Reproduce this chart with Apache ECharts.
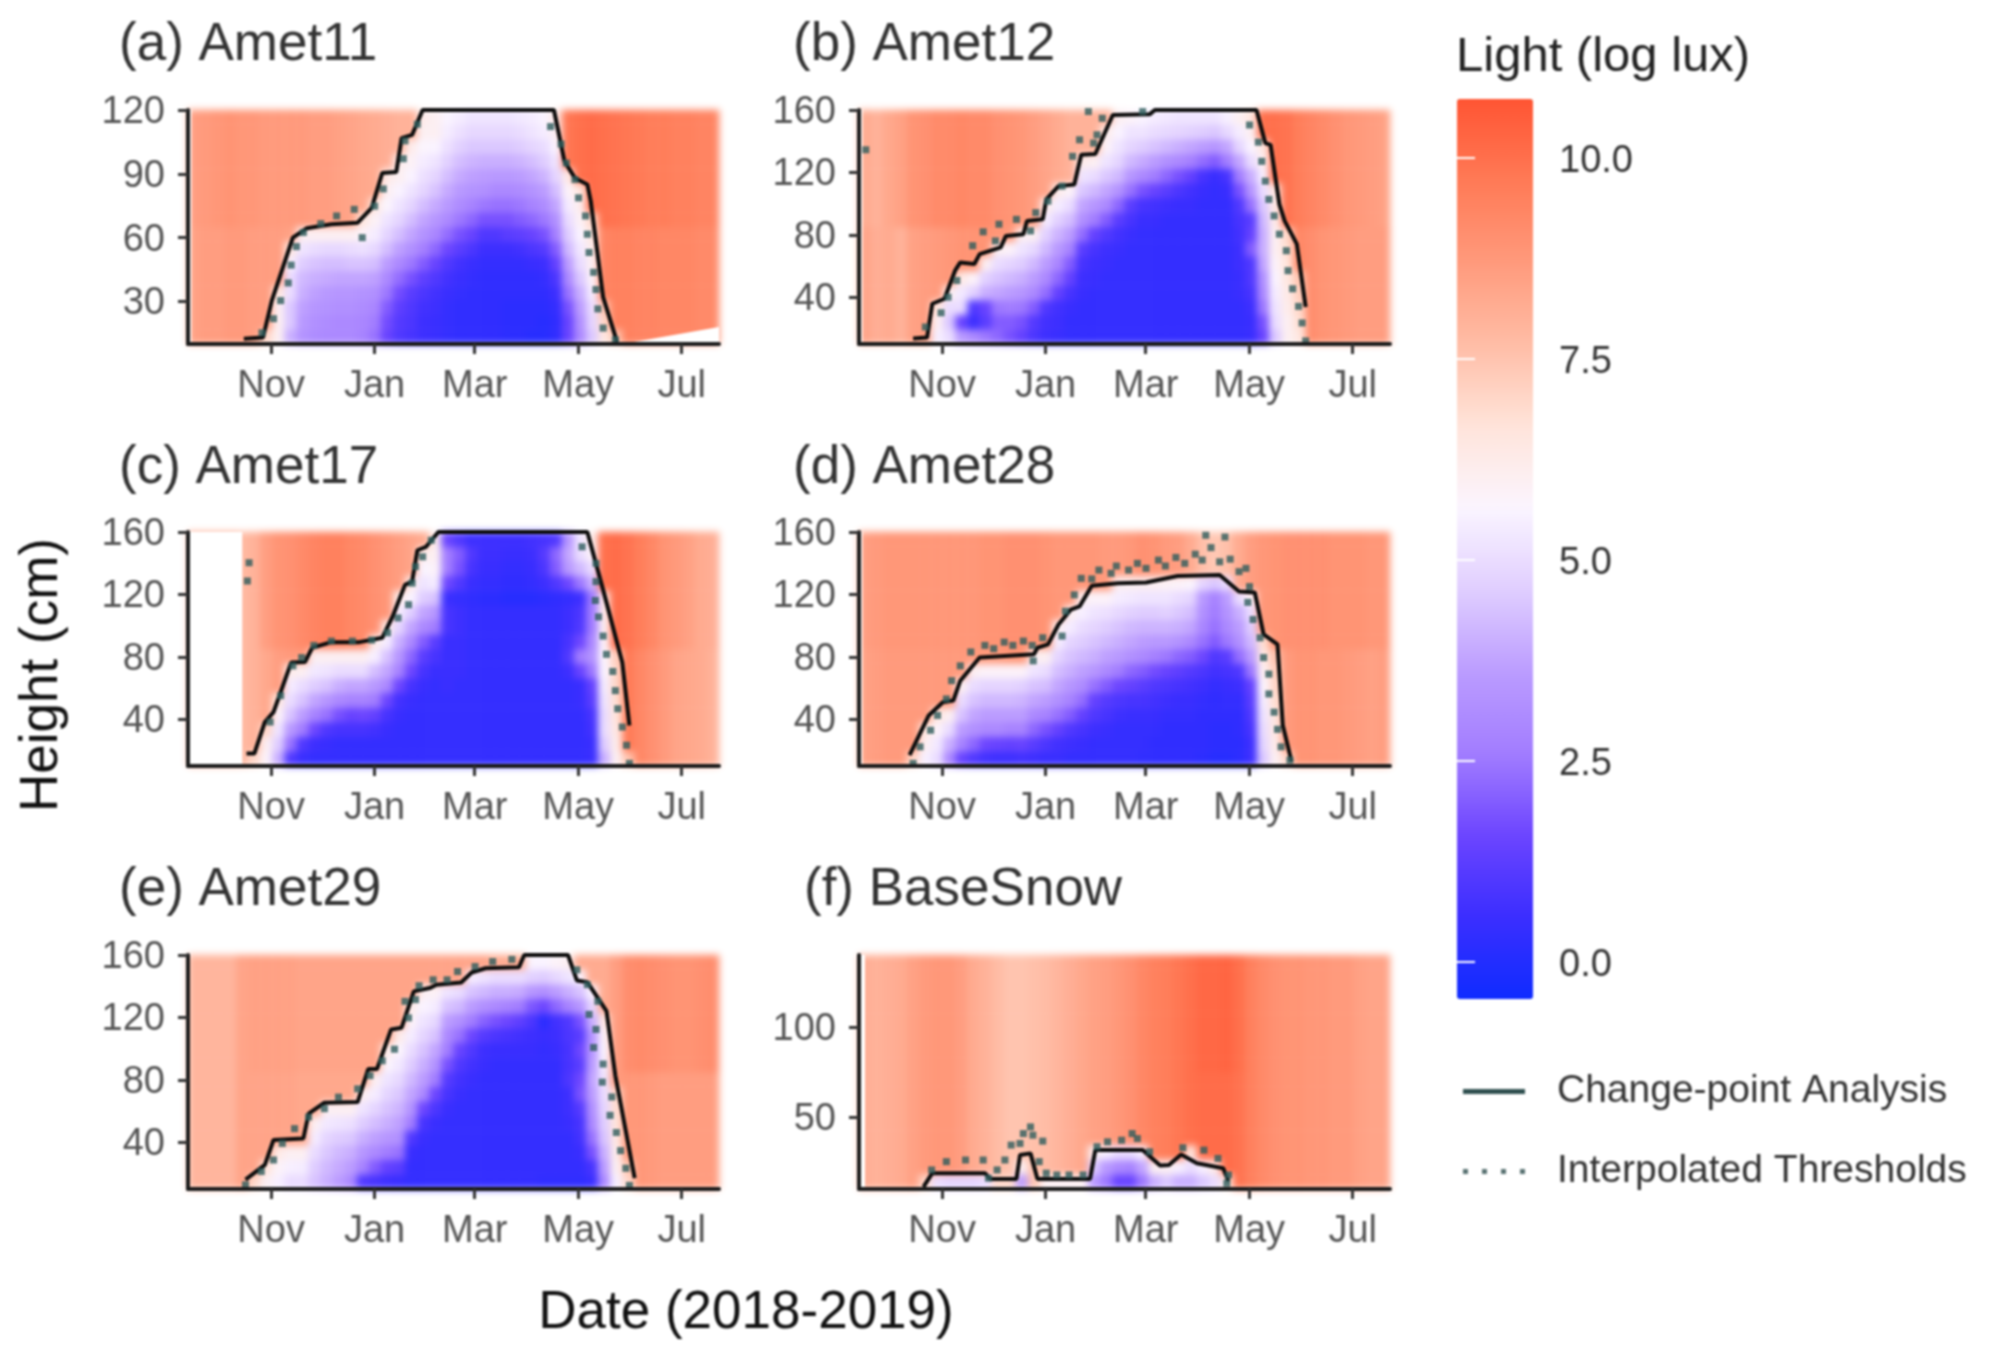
<!DOCTYPE html>
<html><head><meta charset="utf-8">
<style>html,body{margin:0;padding:0;background:#fff}#c{width:1989px;height:1356px;filter:blur(1px)}</style>
<script src="https://cdn.jsdelivr.net/npm/echarts@6/dist/echarts.min.js"></script>
</head><body><div id="c"></div>
<script>
const tickDays=[0,61,120,181,242];
const tickMonths=['Nov','Jan','Mar','May','Jul'];
const legendTicks=[0,2.5,5,7.5,10];
const heightTicksA=[30,60,90,120];
const heightTicks=[40,80,120,160];
const heightTicksF=[50,100];
const colourStops=['#0f2cff','#3b2eff','#6c45ff','#a27dff','#bb9cff','#e0ceff','#fbf5ff','#ffe4da','#ffbda6','#ff9a7c','#ff7a56','#ff5533'];

const airLoA=[8.5,8.6,8.6,8.7,8.7,8.6,8.6,8.6,8.5,8.5,8.5,8.5,8.4,8.4,8.3,8.2,8.2,8.2,8.2,8.2,8.2,8.2,8.2,8.2,8.2,8.2,8.2,8.2,8.2,8.2,8.2,8.6,9,9.3,9.4,9.5,9.5,9.4,9.4,9.3,9.3,9.3,9.2,9.2];
const airHiA=[8.6,8.7,8.8,8.9,8.8,8.8,8.7,8.7,8.7,8.7,8.6,8.6,8.5,8.4,8.3,8.2,8.1,8,8,8,8,8,8,8,8,8,8,8,8,8,8,9.8,10,10.1,10,9.9,9.8,9.7,9.6,9.6,9.5,9.5,9.4,9.4];
const startA=6;
const snowA=[[7],[6,6,6,6.5],[4,4.5,4.5,5,5,5.5,6.5],[3.3,3.5,3.7,4,4.2,4.6,5.2,6],[3.1,3.2,3.4,3.7,4,4.4,5,6],[3,3.1,3.3,3.5,3.9,4.3,4.9,6],[3,3,3.2,3.4,3.8,4.3,4.9,6],[3,3,3.2,3.4,3.8,4.4,5,6],[2.8,2.9,3.1,3.3,3.8,4.4,5.1,5.8,6.5],[2.4,2.6,2.9,3.2,3.7,4.3,4.9,5.4,5.9,6.5],[1.5,1.7,2,2.5,3,3.6,4.3,4.8,5.2,5.7,6,6.3],[1,1.1,1.3,1.7,2.3,3,3.7,4.3,4.8,5.2,5.6,6,6.2],[.8,.9,1,1.2,1.8,2.5,3.2,3.8,4.3,4.8,5.2,5.6,5.9,6.2],[.6,.6,.7,.9,1.3,2,2.7,3.3,3.8,4.3,4.8,5.1,5.4,5.7,6,6.2],[.5,.5,.6,.7,1,1.5,2.2,2.9,3.4,3.9,4.4,4.8,5.2,5.6,6,6],[.4,.4,.4,.5,.7,1,1.6,2.3,3,3.5,3.9,4.3,4.7,5.1,5.4,5.6],[.3,.3,.3,.4,.5,.7,1.2,1.8,2.5,3.1,3.5,3.9,4.3,4.7,5.1,5.4],[.3,.3,.3,.3,.4,.5,.9,1.5,2.2,2.8,3.3,3.7,4.1,4.5,4.9,5.2],[.3,.3,.3,.3,.3,.4,.6,1,1.8,2.5,3.2,3.6,4,4.5,4.9,5.2],[.3,.3,.3,.3,.3,.4,.6,1,1.8,2.4,3,3.5,4,4.5,4.9,5.2],[.2,.2,.2,.3,.3,.4,.6,1.2,1.8,2.4,3,3.5,4,4.5,4.9,5.2],[.2,.2,.2,.3,.3,.4,.7,1.3,2,2.5,3.1,3.6,4.1,4.6,5,5.3],[.1,.2,.2,.3,.3,.5,.9,1.5,2.2,2.8,3.3,3.8,4.3,4.8,5.2,5.4],[.1,.1,.2,.3,.4,.6,1.1,1.8,2.5,3.1,3.6,4.1,4.6,5,5.4,5.6],[.3,.3,.4,.6,.9,1.4,2,2.7,3.2,3.8,4.3,4.8,5.2,5.6,6,6.3],[1.5,1.5,1.8,2.4,3,3.6,4.2,4.6,5,5.4,5.8,6.3],[3,3.2,3.6,4,4.5,5,5.3,5.6,5.9,6.1,6.5],[4.5,4.8,5,5.4,5.8,6,6.2,6.5,7],[6.5,7,7.5],[7.5]];
const lineA=[[-16.1,12.5],[-4.8,13],[.4,30.4],[12.8,60],[21.1,64.4],[35.5,66.3],[51,67],[59.3,74],[65.5,90.4],[73.8,90.9],[76.9,106.8],[83.1,108.3],[89.3,120],[166.7,120],[172.9,95.9],[179.1,88],[186.4,85],[188.4,77.2],[195.7,32],[203.9,11]];
const dotsA=[[-5.4,15.3],[1.4,21.9],[5.6,30.4],[10.1,38.7],[11.8,47.1],[14.9,55.8],[19,62.4],[29.3,66.6],[38.6,70.2],[49,73.3],[53.7,60],[61,74.8],[66.1,82.9],[77.9,97.1],[78.9,105.5],[86.2,113.3],[164.7,112.2],[170.9,104],[174,95.1],[179.1,87.3],[181.2,78.7],[185.3,70.2],[186.4,61.6],[187.4,53],[190.1,43.7],[191.5,35.6],[192.6,26.5],[195.7,17.5],[202.9,12]];
const masksA=[[[-49,120],[-47,120]],[[207,10],[264,18]]];

const airLoB=[8.4,8.1,8.2,8,8.5,8.6,8.7,8.8,8.9,8.9,8.9,8.8,8.7,8.6,8.5,8.4,8.4,8.4,8.4,8.4,8.4,8.4,8.4,8.4,8.4,8.4,8.4,8.4,8.4,8.4,8.4,8.4,8.4,8.4,8.4,9.4,9.3,9.1,8.9,8.8,8.7,8.6,8.6,8.6];
const airHiB=[8.2,8,8.3,8.5,8.9,9,9.2,9.2,9.3,9.2,9.2,9,8.9,8.8,8.6,8.4,8.2,8,8,8,8,8,8,8,8,8,8,8,8,8,8,8,8,10,10,9.9,9.6,9.4,9.2,9,8.8,8.7,8.6,8.5];
const startB=6;
const snowB=[[5.5,6,6.5],[5,4.5,5,6],[3.5,1.5,5,5.3,6.3],[3,.6,1,4.7,5.8],[2.5,1.2,1.5,4,4.7,6],[2.2,2,2.5,3.8,4.4,5,6],[1.8,2,2.6,3.6,4.2,4.8,5.8],[1.4,1.8,2.5,3.4,4,4.6,5.2,6],[.9,1.1,2,3,3.6,4.2,4.9,6],[.6,.7,1,2.3,3,3.6,4.2,4.7,5.4,6.2],[.5,.6,.7,1.4,2.2,2.9,3.5,4.1,4.7,5.4,6.2],[.4,.4,.5,.8,1.4,2,2.8,3.6,4.3,5,5.8],[.4,.4,.4,.5,.6,.8,1.2,2.3,3.2,3.8,4.5,5.2,6.2],[.4,.4,.4,.4,.5,.6,.8,1.4,2.6,3.4,4.2,5,6],[.4,.4,.4,.4,.4,.5,.6,1,2,3,3.8,4.5,5.2,5.8,6.2],[.4,.4,.4,.4,.4,.4,.5,.7,1.2,2.2,3.3,4.2,4.8,5.2,5.6,6],[.4,.4,.4,.4,.4,.4,.4,.5,.8,1.2,2.4,3.4,4.2,4.8,5.2,5.8],[.4,.4,.4,.4,.4,.4,.4,.4,.5,.8,1.8,3,3.9,4.6,5.2,5.6],[.4,.4,.4,.4,.4,.4,.4,.4,.5,.7,1.5,2.6,3.6,4.4,5,5.4],[.4,.4,.4,.4,.4,.4,.4,.4,.4,.6,1.2,2.2,3.2,4.2,4.9,5.3],[.4,.4,.4,.4,.4,.4,.4,.4,.4,.5,.9,1.8,3,4,4.8,5.2],[.4,.4,.4,.4,.4,.4,.4,.4,.4,.5,.7,1.4,2.7,3.8,4.7,5.2],[.4,.4,.4,.4,.4,.4,.4,.4,.4,.4,.5,.8,2.3,3.6,4.6,5.2],[.4,.4,.4,.4,.4,.4,.4,.4,.4,.4,.4,.5,2,3.4,4.5,5.2],[.4,.4,.4,.4,.4,.4,.4,.4,.4,.4,.5,.8,2.6,3.8,4.9,5.5],[.4,.4,.4,.5,.5,.6,.6,.7,.8,1,1.8,2.6,3.8,4.8,5.4,6],[.5,.5,.6,.8,1,1,2,1.4,1.2,2.4,3.4,4,5,5.6,6,6.5],[1.5,1.8,2.5,3,3.2,3.8,4,4,4.2,4.5,5,5.5,6,6.4],[4.5,5,5.2,5.4,5.6,5.8,6,6,6.2,6.3,6.5],[6,6,6.2,6.3,6.5,6.6,6.8,7],[6.5,6.8,7,7.2,7.5]];
const lineB=[[-17.1,13.5],[-8.9,14.1],[-5.8,35.8],[1.4,39],[7.6,57],[10.7,62.3],[19,61.3],[22.1,67.6],[34.5,71.9],[37.6,79.3],[47.9,80.4],[50,88.9],[59.3,89.9],[61.4,102.7],[68.6,111.2],[77.9,112.2],[82,131.3],[90.3,131.8],[100.6,156.8],[122.3,157.2],[125.4,160],[185.3,160],[190.5,138.8],[193.6,137.7],[198.8,99.5],[201.9,88.9],[209.1,74],[214.3,33.7]];
const dotsB=[[-9.9,20.9],[-.6,30],[3.5,40],[8.7,50.7],[18,73],[24.2,81.9],[33.5,86.8],[31.4,76.1],[43.8,89.9],[52.1,82.5],[55.2,94.2],[62.4,101.6],[70.7,111.2],[76.9,130.3],[81,140.9],[86.2,159],[89.3,138.8],[91.3,144.1],[94.4,154.7],[118.2,159],[-45,134.5],[181.2,150.4],[186.4,139.4],[188.4,127.1],[190.5,114.4],[192.6,102.7],[195.7,92.1],[198.8,80.4],[202.9,69.8],[203.9,57],[206.6,45.4],[210.1,34.1],[212.2,23.5],[214.3,12]];
const masksB=[[[-49,160],[-47,160]]];

const airLoC=[8,8,8,8,7.8,8,8.3,8.6,8.7,8.7,8.7,8.7,8.7,8.6,8.5,8.4,8.3,8.2,8.2,8.2,8.2,8.2,8.2,8.2,8.2,8.2,8.2,8.2,8.2,8.2,8.2,8.2,8.2,8.2,9.6,9.8,9.7,9.3,9,8.7,8.4,8.3,8.2,8];
const airHiC=[8,8,8,8,7.8,8,8.6,8.9,9,9.2,9.4,9.5,9.5,9.3,9.2,9,8.8,8.6,8.4,8.2,8.2,8.2,8.2,8.2,8.2,8.2,8.2,8.2,8.2,8.2,8.2,8.2,8.2,8.2,10,10.1,9.9,9.6,9.3,8.9,8.7,8.5,8.2,8.1];
const startC=5;
const snowC=[[7],[5.8,6,7],[4,4.6,5.2,5.8,6.5],[1,2.4,3.5,4.4,5,5.4,6.2],[.5,1,2.6,3.6,4.4,5,6],[.4,.6,1.6,2.8,3.8,4.6,5.3,6],[.4,.5,1,2.4,3.4,4.4,5.2,6],[.4,.4,.8,1.8,3,4,5,6],[.4,.4,.8,1.5,2.8,3.8,5,6],[.4,.4,.8,1.6,2.8,3.8,5,6],[.4,.4,.7,1.4,2.6,3.5,4.3,5.5,6.2],[.4,.4,.5,.8,1.6,3,3.8,4.4,5.4,6.2],[.4,.4,.4,.5,.7,1.6,2.8,3.4,4,4.8,5.4,6.2],[.4,.4,.4,.4,.5,.8,1.6,2.2,3,3.8,4.6,5.6,6.2],[.4,.4,.4,.4,.4,.5,.8,1.2,2,3,3.8,4.6,5.2,5.6,6.2],[.4,.4,.4,.4,.4,.4,.5,.8,1.2,2.6,3.4,4.4,5.4,5.8,6,6.2],[.4,.4,.4,.4,.4,.5,.5,.5,.5,.8,.8,.5,1.6,2.6,2.6,1.5],[.4,.4,.4,.4,.4,.4,.5,.5,.5,.6,.6,.4,1,1.8,2,1],[.4,.4,.4,.4,.4,.4,.4,.4,.4,.4,.4,.3,.5,.8,1,.6],[.4,.4,.4,.4,.4,.4,.4,.4,.4,.4,.4,.2,.4,.5,.6,.6],[.4,.4,.4,.4,.4,.4,.4,.4,.4,.4,.4,.2,.4,.5,.6,.6],[.4,.4,.4,.4,.4,.4,.4,.4,.4,.4,.4,.1,.3,.4,.5,.6],[.4,.4,.4,.4,.4,.4,.4,.4,.4,.4,.4,.1,.3,.4,.5,.6],[.4,.4,.4,.4,.4,.4,.4,.4,.4,.4,.4,.1,.4,.5,.6,.7],[.4,.4,.4,.4,.4,.4,.4,.4,.4,.4,.4,.2,.6,.9,1.1,.8],[.4,.4,.4,.4,.4,.4,.4,.4,.4,.4,.4,.3,1,2,2.2,1],[.4,.4,.4,.4,.4,.4,.6,1,.8,.6,.6,.4,1.6,3.5,3.8,3.4],[.4,.4,.4,.4,.5,.5,1.5,2.6,1.6,1,.9,.6,2.5,4.2,5,5.2],[.5,.5,.7,.8,1.2,1.4,2.5,3.3,3,2.6,2.6,2.5,4,5,5.8,6.2],[4,4.6,5,5,5.2,5.4,5.6,5.7,5.8,6,6.2,6.4],[6,6.2,6.4,6.6,6.8,7,7,7.2],[7.5]];
const lineC=[[-14.5,18],[-9.9,18],[-3.7,38.2],[1.4,44.5],[11.8,76.3],[20,76.7],[24.2,85.8],[35.5,89.4],[52.1,89.4],[65.5,92.2],[71.7,106],[78.9,126.1],[83.1,128.2],[86.2,148.3],[91.3,150.5],[98.6,160],[186.4,160],[195.7,122.9],[207,76.3],[211.2,36]];
const dotsC=[[-13,140.3],[-14,128.6],[-.6,38.2],[5.6,55.1],[12.8,74.2],[18,79.5],[25.2,87.3],[35.5,90.1],[47.9,90.1],[59.3,90.7],[68.6,95.4],[74.8,104.9],[81,113.4],[83.1,127.2],[85.1,137.8],[89.3,144.1],[94.4,154.7],[183.3,150.5],[191.5,139.9],[191.5,128.2],[191.1,116.1],[193,105.6],[195.7,93.3],[197.7,81.6],[201.4,70.6],[202.9,58.3],[204.3,46.7],[207,35],[209.5,23.3],[211.2,11.7]];
const masksC=[[[-49,160],[-17,160]]];

const airLoD=[8.5,8.6,8.7,8.7,8.7,8.7,8.7,8.7,8.7,8.7,8.7,8.7,8.8,8.8,8.8,8.7,8.7,8.6,8.6,8.6,8.6,8.6,8.6,8.6,8.6,8.6,8.6,8.6,8.6,8.6,8.6,8.6,8.6,8.6,8.6,8.7,8.9,8.9,8.8,8.8,8.7,8.6,8.5,8.6];
const airHiD=[8.6,8.7,8.8,8.8,8.8,8.8,8.8,8.8,8.8,8.8,8.9,8.9,9,9,9,8.9,8.8,8.8,8.8,8.8,8.7,8.7,8.8,9,8.9,8.7,8.6,8.2,7.6,7.4,7.6,8.2,8.6,8.8,8.9,9,9,9,9,8.9,8.9,8.9,8.8,8.8];
const startD=4;
const snowD=[[7],[5.5,6,6.5],[5,5.3,5.8,6.5],[3,4,5,6],[1.5,2.8,3.6,4.4,5,6],[1,2.2,3.2,3.8,4.4,5,6],[.7,1.6,3,3.6,4.2,4.8,5.8],[.6,1.5,3,3.6,4.2,4.8,5.8],[.6,1.4,2.8,3.6,4.2,4.8,5.8],[.7,1.5,2.8,3.6,4.1,4.7,5.8],[.6,1.2,2.2,3,3.8,4.4,5.2,6],[.5,.9,1.8,2.8,3.6,4.3,5,6],[.5,.7,1.4,2.4,3.2,3.8,4.3,4.8,5.4,6],[.4,.6,1,2,2.8,3.4,4,4.4,4.8,5.4,6],[.4,.5,.8,1.4,2.3,3.1,3.7,4.2,4.6,5,5.5,6],[.4,.4,.6,1,1.4,2.4,3.4,4,4.4,4.8,5.2,5.8],[.4,.4,.5,.8,1.1,2,3,3.7,4.2,4.6,5.1,5.8],[.4,.4,.4,.6,.9,1.6,2.6,3.5,4,4.4,4.9,5.4,6],[.4,.4,.4,.5,.8,1.4,2.2,3.2,3.8,4.2,4.7,5.3,6],[.3,.4,.4,.5,.8,1.2,2,3,3.6,4.1,4.6,5.2,6],[.3,.3,.4,.5,.7,1,1.7,2.7,3.5,4.1,4.6,5.2,6],[.3,.3,.3,.4,.6,.9,1.5,2.5,3.5,4.1,4.7,5.2,5.9],[.3,.3,.3,.4,.5,.8,1.3,2.2,3.3,4,4.5,5,5.8],[.3,.3,.3,.4,.5,.7,1.1,2,3,3.8,4.3,4.8,5.7],[.2,.3,.3,.3,.4,.6,.9,1.6,2.4,2.9,3.2,3.5,4.8],[.1,.2,.2,.3,.3,.4,.7,1,2,2.4,2.6,2.8,4.5],[.1,.2,.2,.3,.4,.5,.8,1.2,2.5,3,3.3,3.6,5],[.2,.2,.3,.3,.4,.6,1,2.3,3.2,3.6,4,5],[.6,.6,.8,1,1.2,1.4,2.5,3.6,4.2,4.6,5,5.8],[4.5,4.8,5,5.2,5.4,5.7,6,6.4,6.8],[6,6.2,6.4,6.5,6.8,7,7.2,7.5],[7]];
const lineD=[[-19.2,17],[-7.9,42.4],[.4,50.9],[6.6,52],[10.7,64.7],[22.1,79.5],[54.1,81.6],[56.2,85.8],[62.4,88],[68.6,100.7],[75.8,110.2],[81,112.3],[88.2,125.5],[103.7,127.2],[120.2,127.6],[138.8,131.8],[163.6,132.5],[175,121.9],[184.3,121.2],[189.5,94.4],[197.7,88],[200.8,36.1],[206,12.8]];
const dotsD=[[-17.1,11.7],[-13,22.3],[-6.8,32.9],[-2.7,42.4],[2.5,53],[5.6,64.7],[10.7,74.2],[16.9,83.1],[25.2,87.3],[30.4,85.2],[36.6,89.4],[41.7,87.3],[47.9,90.1],[53.1,87.3],[59.3,92.2],[53.7,77.4],[70.7,93.3],[72.7,109.2],[77.9,119.7],[82,130.3],[88.2,129.9],[92.4,135.6],[99.6,133.5],[102.7,138.2],[109.9,135.6],[115.1,139.9],[120.2,136.7],[127.5,142],[131.6,138.2],[137.8,143.7],[143,139.9],[149.2,145.8],[153.3,142],[163.6,140.9],[169.8,142.6],[175,134.6],[179.1,136.7],[181.2,125],[180.2,114.9],[183.3,103.9],[187.4,92.2],[189.5,79.5],[192.6,68.9],[192.6,56.2],[195.7,44.5],[197.7,33.5],[199.8,22.3],[205,13.8],[155.4,157.9],[166.7,156.8],[158.5,150]];
const masksD=[[[-49,160],[-47,160]]];

const airLoE=[7.9,7.9,7.9,7.9,8.4,8.4,8.4,8.4,8.4,8.3,8.3,8.3,8.3,8.3,8.3,8.3,8.3,8.3,8.3,8.3,8.3,8.3,8.3,8.3,8.3,8.3,8.3,8.3,8.3,8.3,8.3,8.3,8.3,8.3,8.3,8.7,8.8,8.8,8.7,8.6,8.6,8.6,8.6,8.6];
const airHiE=[7.9,7.9,7.9,7.9,8.4,8.5,8.5,8.5,8.5,8.4,8.4,8.4,8.4,8.4,8.4,8.4,8.4,8.4,8.4,8.4,8.4,8.4,8.4,8.4,8.4,8.2,8.2,8.2,8.2,8.2,8.2,8.2,8.2,8.2,8.2,8.6,9.1,9.2,9.1,9,8.9,8.9,9,9.1];
const startE=5;
const snowE=[[7],[6,6.6],[5.5,5.8,6.3],[5,5.5,6],[5,5.4,6],[4.4,4.6,5,5.4,6],[4,4.2,4.5,4.8,5.3,6],[3.6,3.9,4.2,4.6,5.2,6],[3,3.6,4,4.5,5.1,6],[1,2.8,3.4,4,4.6,5.2,6],[.8,2,3,3.7,4.3,4.8,5.4,6],[.6,1.4,2.6,3.4,4,4.4,4.8,5.2,5.7,6.2],[.5,1.2,2.4,3.2,3.7,4.1,4.5,4.9,5.3,5.7,6.2],[.4,.4,.5,1,2.6,3.3,3.8,4.2,4.6,5,5.4,5.8,6.2],[.4,.4,.4,.5,.8,1.6,3,3.6,4,4.4,4.8,5.2,5.6,6],[.4,.4,.4,.4,.5,.9,1.6,2.6,3.3,3.8,4.4,4.9,5.4,5.9],[.4,.4,.4,.4,.4,.5,.8,1.1,1.8,2.6,3,3.6,4.4,5.2],[.4,.4,.4,.4,.4,.4,.5,.7,1,1.5,2.4,3.2,4.2,5],[.4,.4,.4,.4,.4,.4,.4,.5,.7,1,1.6,2.6,3.6,4.4,5.4],[.4,.4,.4,.4,.4,.4,.4,.4,.5,.6,1.1,2.1,3.2,4.2,5.2],[.4,.4,.4,.4,.4,.4,.4,.4,.4,.5,.9,1.8,3,4,5],[.4,.4,.4,.4,.4,.4,.4,.4,.4,.5,.8,1.6,2.8,4,5],[.4,.4,.4,.4,.4,.4,.4,.4,.4,.5,.7,1.3,2.6,3.9,5],[.4,.4,.4,.4,.4,.4,.4,.4,.4,.5,.6,.9,1.9,3.4,4.7,5.6],[.3,.4,.4,.4,.4,.4,.4,.4,.4,.4,.5,.2,1.6,3.2,4.6,5.6],[.3,.4,.4,.4,.4,.4,.4,.4,.4,.5,.6,.7,2.2,3.6,4.9,5.8],[.3,.4,.4,.4,.5,.6,.6,.9,.8,.8,.9,1,2.8,4,5.2,6],[.3,.4,.5,.7,.8,1.1,1.8,1.6,1.2,1.6,1.2,1.8,3.4,4.4,5.6],[.5,.8,1.8,2.4,3,3.2,3.6,3.8,3.6,3.4,3.4,4,4.8,5.6],[3,3.6,4,4.4,4.6,4.8,5,5.2,5.4,5.6,5.8,6.4],[5.5,6,6.2,6.4,6.6,6.8,7],[7,7.5]];
const lineE=[[-15.1,16],[-3.7,25.5],[1.4,41.4],[19,42.4],[22.1,58.3],[31.4,65.3],[51,65.7],[57.2,86.9],[62.4,86.9],[70.7,112.3],[76.9,113.4],[84.1,136.7],[93.4,138.8],[97.5,140.9],[112,142.4],[118.2,148.8],[126.4,151.5],[146.1,152.2],[149.2,160],[175,160],[180.2,143.7],[186.4,142.6],[197.7,124],[202.9,82.7],[214.3,17]];
const dotsE=[[-15.1,12.7],[-5.8,21.2],[1.4,28.6],[6.6,39.2],[13.8,48.7],[22.1,56.1],[31.4,61.5],[39.7,68.9],[51,74.2],[58.3,82.7],[65.5,92.2],[72.7,99.6],[81,119.7],[85.1,131.4],[78.9,130.3],[87.2,140.3],[95.5,144.1],[103.7,144.1],[109.9,149.4],[120.2,152.6],[130.6,155.8],[141.9,157.2],[180.2,150.5],[186.4,141],[192.6,130.3],[187.4,121.9],[191.5,112.3],[190.1,100.7],[195.7,90.1],[195.2,78.5],[200.8,69],[199.8,57.2],[203.5,46.2],[206,34.6],[209.1,23.3],[211.2,12.3]];
const masksE=[];

const airLoF=[8.1,8,8.1,8.2,8.5,8.7,8.8,8.8,8.6,8.2,8,7.7,7.5,7.5,7.6,7.7,7.9,8.1,8.3,8.5,8.6,8.8,9,9.3,9.5,9.6,9.8,10,10.1,10.1,10.1,9.9,9.5,9.2,9,8.9,8.9,8.8,8.8,8.7,8.7,8.5,8.4,8.4];
const airHiF=[8.1,8,8.1,8.2,8.5,8.7,8.8,8.8,8.6,8.2,8,7.7,7.5,7.5,7.6,7.7,7.9,8.1,8.3,8.5,8.6,8.8,9,9.3,9.5,9.6,9.8,10,10.2,10.2,10.3,10,9.5,9.2,9,8.9,8.9,8.8,8.8,8.7,8.7,8.5,8.4,8.4];
const startF=5;
const snowF=[[7],[5],[4.8],[4.8],[4.8],[5],[7],[7],[3.6,6],[7.5],[6],[6],[6],[6],[3.5,4.5,6],[2.5,3.5,5.5],[1.5,3,5],[1.5,2.8,5],[2.5,3.8,5.5],[4,6],[4.5,6],[4,5.5],[4,5,6.5],[4.5,5.5],[5,6.3],[6.5]];
const lineF=[[-11,11.2],[-5.8,18.8],[25.2,18.8],[28.3,15.6],[43.8,15.6],[45.9,28.9],[52.1,29.8],[56.2,15.6],[87.2,15.6],[90.3,31.6],[118.2,31.6],[128.5,23],[133.7,23.3],[140.9,29.2],[150.2,24.3],[165.7,21.5],[168.8,14.2]];
const dotsF=[[-6.2,20.6],[2.5,25.2],[13.8,26.1],[24.2,26.1],[27.3,16],[32.4,20.6],[37,26.1],[40.7,34.4],[45.9,35.3],[47.9,40.8],[52.1,44.5],[53.5,39.9],[57.2,25.2],[59.3,36.6],[61.4,18.8],[67.6,17.8],[74.8,17.8],[83.1,17.8],[91.3,33.5],[97.5,36.2],[105.8,37.1],[112,40.8],[115.1,38],[122.3,30.7],[141.9,32.9],[154.3,31.6],[162.6,27],[168.8,17.8],[167.8,13.2]];
const masksF=[[[-49,140],[-45.5,140]]];

const panels=[
 {t:'(a) Amet11',tx:119,ty:19,l:188,top:110,h:234,ymax:120,ticks:heightTicksA,lo:airLoA,hi:airHiA,start:startA,snow:snowA,line:lineA,dots:dotsA,masks:masksA},
 {t:'(b) Amet12',tx:793,ty:19,l:859,top:110,h:234,ymax:160,ticks:heightTicks,lo:airLoB,hi:airHiB,start:startB,snow:snowB,line:lineB,dots:dotsB,masks:masksB},
 {t:'(c) Amet17',tx:119,ty:442,l:188,top:532,h:234,ymax:160,ticks:heightTicks,lo:airLoC,hi:airHiC,start:startC,snow:snowC,line:lineC,dots:dotsC,masks:masksC},
 {t:'(d) Amet28',tx:793,ty:442,l:859,top:532,h:234,ymax:160,ticks:heightTicks,lo:airLoD,hi:airHiD,start:startD,snow:snowD,line:lineD,dots:dotsD,masks:masksD},
 {t:'(e) Amet29',tx:119,ty:864,l:188,top:955,h:234,ymax:160,ticks:heightTicks,lo:airLoE,hi:airHiE,start:startE,snow:snowE,line:lineE,dots:dotsE,masks:masksE},
 {t:'(f) BaseSnow',tx:804,ty:864,l:859,top:955,h:234,ymax:140,ticks:heightTicksF,lo:airLoF,hi:airHiF,start:startF,snow:snowF,line:lineF,dots:dotsF,masks:masksF}
];
const NCOL=44,NROW=16,XMIN=-49,XMAX=264,W=531,FONT='"Liberation Sans",Arial,sans-serif';
const CPA='Change-point Analysis',ITH='Interpolated Thresholds';
const colIdx=[...Array(NCOL).keys()],rowIdx=[...Array(NROW).keys()];
const axisStyle={lineStyle:{color:'#1a1a1a',width:4}};
const grids=[],xAxes=[],yAxes=[],series=[],titles=[];
panels.forEach((p,i)=>{
  grids.push({left:p.l,top:p.top,width:W,height:p.h});
  titles.push({text:p.t,left:p.tx,top:p.ty,padding:0,textStyle:{fontFamily:FONT,fontSize:53,fontWeight:'normal',color:'#333'}});
  xAxes.push({gridIndex:i,type:'category',data:colIdx,show:false,position:'bottom'});
  xAxes.push({gridIndex:i,type:'value',position:'bottom',min:XMIN,max:XMAX,z:6,splitLine:{show:false},axisLine:{onZero:false,...axisStyle},
    axisTick:{customValues:tickDays,length:10,lineStyle:{color:'#333',width:3}},
    axisLabel:{customValues:tickDays,margin:24,fontFamily:FONT,fontSize:38,color:'#555',formatter:v=>tickMonths[tickDays.indexOf(v)]}});
  yAxes.push({gridIndex:i,type:'category',data:rowIdx,show:false,position:'left'});
  yAxes.push({gridIndex:i,type:'value',position:'left',min:10,max:p.ymax,z:6,splitLine:{show:false},axisLine:{onZero:false,...axisStyle},
    axisTick:{customValues:p.ticks,length:10,lineStyle:{color:'#333',width:3}},
    axisLabel:{customValues:p.ticks,margin:23,verticalAlign:'top',lineHeight:5,fontFamily:FONT,fontSize:38,color:'#555'}});
  const cells=[];
  colIdx.forEach(k=>{
    const col=p.snow[k-p.start]||[];
    rowIdx.forEach(r=>{
      const v=r<col.length?col[r]:(r<8?p.lo[k]:p.hi[k]);
      cells.push([k,r,v]);
    });
  });
  series.push({type:'heatmap',zlevel:-1,xAxisIndex:2*i,yAxisIndex:2*i,data:cells,progressive:0,silent:true,z:1});
  p.masks.forEach(m=>series.push({type:'line',xAxisIndex:2*i+1,yAxisIndex:2*i+1,data:m,showSymbol:false,silent:true,z:2,lineStyle:{width:0},areaStyle:{color:'#fff',opacity:1,origin:'start'}}));
  series.push({type:'line',name:CPA,xAxisIndex:2*i+1,yAxisIndex:2*i+1,data:p.line,showSymbol:false,clip:false,silent:true,z:3,lineStyle:{color:'#0c0c0c',width:4},itemStyle:{color:'#2f4f4f'}});
  series.push({type:'scatter',name:ITH,xAxisIndex:2*i+1,yAxisIndex:2*i+1,data:p.dots,symbol:'rect',symbolSize:7,silent:true,z:4,itemStyle:{color:'#2e5c5c'}});
});
grids.push({left:1459,top:99,width:76,height:900});
const BARMIN=-0.46,BARMAX=10.73;
xAxes.push({gridIndex:6,type:'value',show:false,min:0,max:1});
yAxes.push({gridIndex:6,type:'value',position:'right',min:BARMIN,max:BARMAX,z:10,splitLine:{show:false},axisLine:{show:false},
  axisTick:{customValues:legendTicks,inside:true,length:16,lineStyle:{color:'#fff',width:2}},
  axisLabel:{customValues:legendTicks,margin:24,verticalAlign:'top',lineHeight:8,fontFamily:FONT,fontSize:38,color:'#333',formatter:v=>v.toFixed(1)}});
yAxes.push({gridIndex:6,type:'value',position:'left',min:BARMIN,max:BARMAX,z:10,splitLine:{show:false},axisLine:{show:false},
  axisTick:{customValues:legendTicks,inside:true,length:16,lineStyle:{color:'#fff',width:2}},axisLabel:{show:false}});
titles.push({text:'Date (2018-2019)',left:746,top:1287,textAlign:'center',padding:0,textStyle:{fontFamily:FONT,fontSize:53,fontWeight:'normal',color:'#111'}});
titles.push({text:'Light (log lux)',left:1456,top:33,padding:0,textStyle:{fontFamily:FONT,fontSize:49,fontWeight:'normal',color:'#222'}});
const heatIdx=series.map((s,i)=>s.type==='heatmap'?i:-1).filter(i=>i>=0);
const chart=echarts.init(document.getElementById('c'),null,{renderer:'canvas',width:1989,height:1356});
chart.setOption({
  animation:false,backgroundColor:'#fff',
  title:titles,grid:grids,xAxis:xAxes,yAxis:yAxes,series,
  visualMap:{type:'continuous',seriesIndex:heatIdx,min:BARMIN,max:BARMAX,left:1457,top:99,padding:0,itemWidth:76,itemHeight:900,calculable:false,hoverLink:false,text:null,inRange:{color:colourStops},z:4},
  legend:{show:true,orient:'vertical',left:1463,top:1072,padding:0,itemGap:41,itemWidth:62,itemHeight:5,selectedMode:false,
    textStyle:{fontFamily:FONT,fontSize:39,color:'#333',padding:[0,0,0,27]},
    data:[{name:CPA,icon:'path://M0 0H62V5H0Z',itemStyle:{color:'#2f4f4f'}},
          {name:ITH,icon:'path://M0 0H5V5H0ZM19 0H24V5H19ZM38 0H43V5H38ZM57 0H62V5H57Z',itemStyle:{color:'#2f4f4f'}}]},
  graphic:[{type:'text',x:42,y:675,rotation:Math.PI/2,style:{text:'Height (cm)',fontFamily:FONT,fontSize:53,fill:'#111',textAlign:'center',textVerticalAlign:'middle'}}]
});
function softenHeat(){const cs=document.querySelectorAll('#c canvas');if(cs.length>1)cs[0].style.filter='blur(3.5px)';}
softenHeat();chart.on('finished',softenHeat);
</script></body></html>
